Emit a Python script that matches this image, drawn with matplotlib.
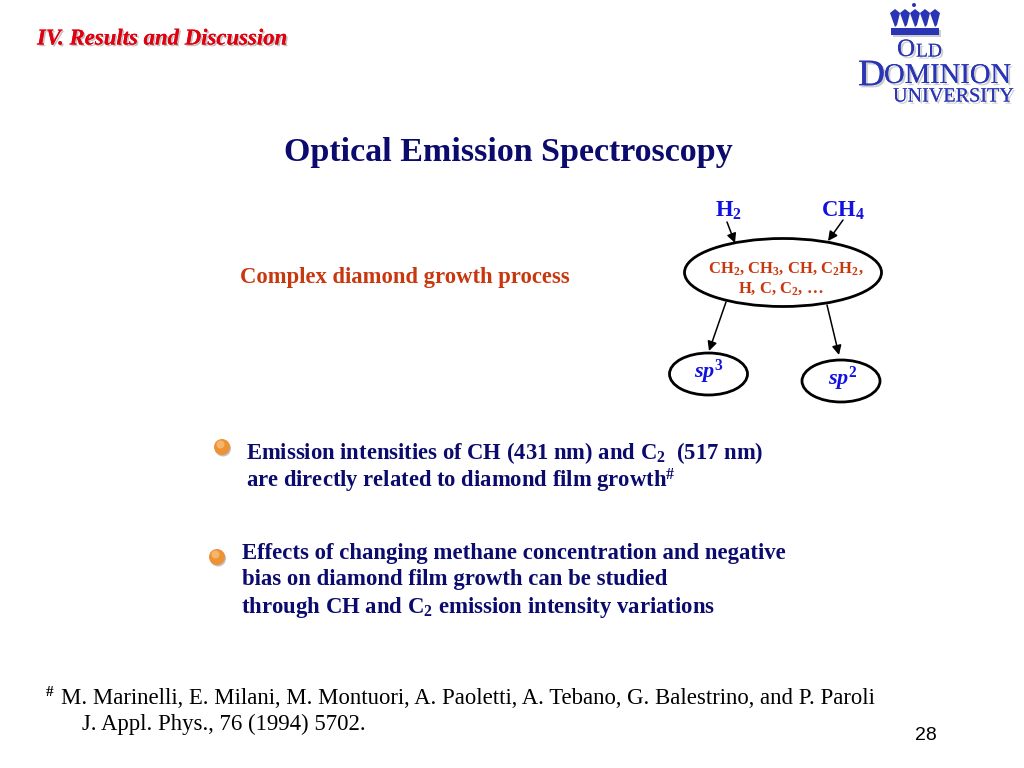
import matplotlib
matplotlib.use("Agg")
import matplotlib.pyplot as plt
import matplotlib.patheffects as pe
from matplotlib.patches import Ellipse, Polygon, Rectangle, Circle

plt.rcParams["font.family"] = ["Liberation Serif", "DejaVu Serif"]
plt.rcParams["mathtext.fontset"] = "custom"
plt.rcParams["mathtext.rm"] = "Liberation Serif:bold"
plt.rcParams["mathtext.it"] = "Liberation Serif:italic:bold"
plt.rcParams["mathtext.bf"] = "Liberation Serif:bold"
plt.rcParams["mathtext.default"] = "rm"

NAVY = "#0b0b6e"
BLUE = "#1111e0"
RUST = "#c8380f"

section = "IV. Results and Discussion"
title = "Optical Emission Spectroscopy"
process = "Complex diamond growth process"
feed_gases = [r"H$_{2}$", r"CH$_{4}$"]
species = [r"CH$_{2}$, CH$_{3}$, CH, C$_{2}$H$_{2}$,", r"H, C, C$_{2}$, …"]
bullet_one = [r"Emission intensities of CH (431 nm) and C$_{2}$  (517 nm)",
              r"are directly related to diamond film growth$^{\#}$"]
bullet_two = ["Effects of changing methane concentration and negative",
              "bias on diamond film growth can be studied",
              r"through CH and C$_{2}$ emission intensity variations"]
reference = ["M. Marinelli, E. Milani, M. Montuori, A. Paoletti, A. Tebano, G. Balestrino, and P. Paroli",
             "J. Appl. Phys., 76 (1994) 5702."]
page = "28"

fig = plt.figure(figsize=(10.24, 7.68), dpi=100)
ax = fig.add_axes([0, 0, 1, 1])
ax.set_xlim(0, 1024)
ax.set_ylim(768, 0)
ax.axis("off")

# header
ax.text(37, 39, section, color="#e00010", fontsize=16.4, style="italic", weight="bold", va="center",
        path_effects=[pe.withSimplePatchShadow(offset=(1.2, -1.2), shadow_rgbFace="#999999", alpha=0.6), pe.Normal()])
ax.text(508, 152, title, color=NAVY, fontsize=24.5, weight="bold", ha="center", va="center")
ax.text(404.5, 278, process, color=RUST, fontsize=16.3, weight="bold", ha="center", va="center")

# growth diagram
ax.add_patch(Ellipse((783, 272.5), 197, 68, fc="white", ec="black", lw=2))
ax.add_patch(Ellipse((708.5, 374), 78, 42, fc="white", ec="black", lw=2))
ax.add_patch(Ellipse((841, 381), 78, 42, fc="white", ec="black", lw=2))
ax.text(729, 211, feed_gases[0], color=BLUE, fontsize=16.3, weight="bold", ha="center", va="center")
ax.text(843, 211, feed_gases[1], color=BLUE, fontsize=16.3, weight="bold", ha="center", va="center")
ax.text(785.5, 269, species[0], color=RUST, fontsize=12, weight="bold", ha="center", va="center")
ax.text(781, 289, species[1], color=RUST, fontsize=12, weight="bold", ha="center", va="center")
ax.text(709, 372, r"$\mathit{sp}^{\mathit{3}}$", color=BLUE, fontsize=16, ha="center", va="center")
ax.text(843, 379, r"$\mathit{sp}^{\mathit{2}}$", color=BLUE, fontsize=16, ha="center", va="center")
arrows = [((727, 222), (735, 243)), ((843, 220), (828, 241)),
          ((726, 302), (709, 351)), ((827, 305), (839, 355))]
for start, end in arrows:
    ax.annotate("", xy=end, xytext=start,
                arrowprops=dict(arrowstyle="-|>", color="black", lw=1.1, mutation_scale=14, shrinkA=0, shrinkB=0))

# bullets
for cx, cy in [(222, 447), (217, 557)]:
    ax.add_patch(Circle((cx + 1, cy + 1.5), 8, fc="#999999", ec="none", alpha=0.6))
    ax.add_patch(Circle((cx, cy), 8, fc="#ee9236", ec="none"))
    ax.add_patch(Circle((cx - 1.5, cy - 2.5), 4, fc="#f6b56c", ec="none"))

for y, line in zip([453, 481], bullet_one):
    ax.text(246, y, line, color=NAVY, fontsize=16.3, weight="bold", va="center")
for y, line, x in zip([553, 580, 607], bullet_two, [242, 242, 241]):
    ax.text(x, y, line, color=NAVY, fontsize=16.4, weight="bold", va="center")

# reference
ax.text(46, 692, "#", color="black", fontsize=11, weight="bold", va="center")
ax.text(61, 698, reference[0], color="black", fontsize=16.4, va="center")
ax.text(82, 724, reference[1], color="black", fontsize=16.4, va="center")
ax.text(926, 736, page, color="black", fontsize=14, family="Liberation Sans", ha="center", va="center")

# logo
LOGO = "#2a35b5"
shadow = [pe.withSimplePatchShadow(offset=(1.5, -1.5), shadow_rgbFace="#aaaaaa", alpha=0.6), pe.Normal()]
ax.add_patch(Rectangle((891, 28), 48, 7, fc=LOGO, ec="none", path_effects=shadow))
for x in [895, 905, 915, 925, 935]:
    ax.add_patch(Polygon([(x - 5, 13), (x, 9), (x + 5, 13), (x + 2, 25), (x, 27)], fc=LOGO, ec="none"))
ax.add_patch(Circle((914, 5), 2, fc=LOGO, ec="none"))
ax.text(897, 50, "O", color=LOGO, fontsize=18, va="center", path_effects=shadow)
ax.text(916, 52, "LD", color=LOGO, fontsize=14, va="center", path_effects=shadow)
ax.text(858, 76, "D", color=LOGO, fontsize=27, va="center", path_effects=shadow)
ax.text(884, 76, "OMINION", color=LOGO, fontsize=20.6, va="center", path_effects=shadow)
ax.text(893, 97, "UNIVERSITY", color=LOGO, fontsize=14.5, va="center", path_effects=shadow)

fig.savefig("out.png", dpi=100, facecolor="white")
